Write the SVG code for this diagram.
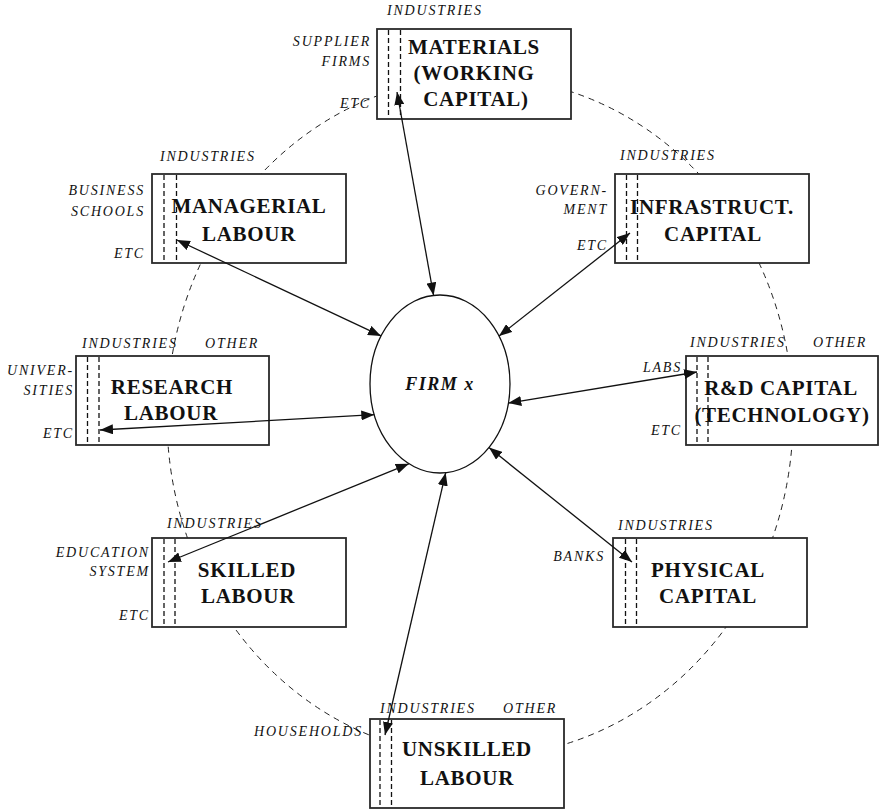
<svg xmlns="http://www.w3.org/2000/svg" width="879" height="812" viewBox="0 0 879 812">
  <style>
    .box { fill: #ffffff; stroke: #2a2a2a; stroke-width: 1.8; }
    .div { stroke: #111111; stroke-width: 1.3; stroke-dasharray: 5 3; fill: none; }
    .ring { fill: none; stroke: #222222; stroke-width: 1; stroke-dasharray: 6 5; }
    .title { font-family: "Liberation Serif", "Times New Roman", serif; font-weight: bold; font-size: 21px; letter-spacing: 0.7px; fill: #111111; text-anchor: middle; }
    .lab { font-family: "Liberation Serif", "Times New Roman", serif; font-style: italic; font-size: 14px; letter-spacing: 1.8px; fill: #111111; }
    .end { text-anchor: end; }
    .firm { font-family: "Liberation Serif", "Times New Roman", serif; font-style: italic; font-weight: bold; font-size: 18px; letter-spacing: 1.5px; fill: #111111; text-anchor: middle; }
    .arrow { stroke: #111111; stroke-width: 1.3; fill: none; marker-start: url(#head); marker-end: url(#head); }
  </style>
  <defs>
    <marker id="head" viewBox="0 0 13 10" refX="13" refY="5" markerWidth="13" markerHeight="10" markerUnits="userSpaceOnUse" orient="auto-start-reverse">
      <path d="M0,0 L13,5 L0,10 z" fill="#111111"/>
    </marker>
  </defs>
  <rect width="879" height="812" fill="#ffffff"/>

  <!-- outer ring of supplying sectors -->
  <ellipse class="ring" cx="480" cy="417" rx="313" ry="340"/>

  <g id="materials">
    <rect class="box" x="377" y="29" width="194" height="90"/>
    <line class="div" x1="388.5" y1="30" x2="388.5" y2="118"/>
    <line class="div" x1="400.5" y1="30" x2="400.5" y2="118"/>
    <text class="title" x="474" y="54">MATERIALS</text>
    <text class="title" x="474" y="80">(WORKING</text>
    <text class="title" x="476" y="106">CAPITAL)</text>
    <text class="lab" x="387" y="15">INDUSTRIES</text>
    <text class="lab end" x="371" y="46">SUPPLIER</text>
    <text class="lab end" x="371" y="66">FIRMS</text>
    <text class="lab end" x="371" y="108">ETC</text>
  </g>

  <g id="managerial">
    <rect class="box" x="152" y="174" width="194" height="89"/>
    <line class="div" x1="164" y1="175" x2="164" y2="262"/>
    <line class="div" x1="176.5" y1="175" x2="176.5" y2="262"/>
    <text class="title" x="249" y="213">MANAGERIAL</text>
    <text class="title" x="249" y="241">LABOUR</text>
    <text class="lab" x="160" y="161">INDUSTRIES</text>
    <text class="lab end" x="145" y="195">BUSINESS</text>
    <text class="lab end" x="145" y="216">SCHOOLS</text>
    <text class="lab end" x="145" y="258">ETC</text>
  </g>

  <g id="infrastructure">
    <rect class="box" x="615" y="174" width="194" height="89"/>
    <line class="div" x1="626.5" y1="175" x2="626.5" y2="262"/>
    <line class="div" x1="637.5" y1="175" x2="637.5" y2="262"/>
    <text class="title" x="712" y="214">INFRASTRUCT.</text>
    <text class="title" x="713" y="241">CAPITAL</text>
    <text class="lab" x="620" y="160">INDUSTRIES</text>
    <text class="lab end" x="608" y="195">GOVERN-</text>
    <text class="lab end" x="608" y="214">MENT</text>
    <text class="lab end" x="608" y="250">ETC</text>
  </g>

  <g id="research">
    <rect class="box" x="76" y="356" width="193" height="89"/>
    <line class="div" x1="87.5" y1="357" x2="87.5" y2="444"/>
    <line class="div" x1="99" y1="357" x2="99" y2="444"/>
    <text class="title" x="172" y="394">RESEARCH</text>
    <text class="title" x="171" y="420">LABOUR</text>
    <text class="lab" x="82" y="348">INDUSTRIES</text>
    <text class="lab" x="205" y="348">OTHER</text>
    <text class="lab end" x="74" y="375">UNIVER-</text>
    <text class="lab end" x="74" y="395">SITIES</text>
    <text class="lab end" x="74" y="438">ETC</text>
  </g>

  <g id="rd-capital">
    <rect class="box" x="686" y="356" width="192" height="89"/>
    <line class="div" x1="697" y1="357" x2="697" y2="444"/>
    <line class="div" x1="708" y1="357" x2="708" y2="444"/>
    <text class="title" x="781" y="395">R&amp;D CAPITAL</text>
    <text class="title" x="782" y="422">(TECHNOLOGY)</text>
    <text class="lab" x="690" y="347">INDUSTRIES</text>
    <text class="lab" x="813" y="347">OTHER</text>
    <text class="lab end" x="682" y="372">LABS</text>
    <text class="lab end" x="682" y="435">ETC</text>
  </g>

  <g id="skilled">
    <rect class="box" x="152" y="538" width="194" height="89"/>
    <line class="div" x1="164" y1="539" x2="164" y2="626"/>
    <line class="div" x1="175" y1="539" x2="175" y2="626"/>
    <text class="title" x="247" y="577">SKILLED</text>
    <text class="title" x="248" y="603">LABOUR</text>
    <text class="lab" x="167" y="528">INDUSTRIES</text>
    <text class="lab end" x="150" y="557">EDUCATION</text>
    <text class="lab end" x="150" y="576">SYSTEM</text>
    <text class="lab end" x="150" y="620">ETC</text>
  </g>

  <g id="physical">
    <rect class="box" x="613" y="538" width="194" height="89"/>
    <line class="div" x1="625.5" y1="539" x2="625.5" y2="626"/>
    <line class="div" x1="636.5" y1="539" x2="636.5" y2="626"/>
    <text class="title" x="708" y="577">PHYSICAL</text>
    <text class="title" x="708" y="603">CAPITAL</text>
    <text class="lab" x="618" y="530">INDUSTRIES</text>
    <text class="lab end" x="605" y="561">BANKS</text>
  </g>

  <g id="unskilled">
    <rect class="box" x="370" y="719" width="194" height="89"/>
    <line class="div" x1="380" y1="720" x2="380" y2="807"/>
    <line class="div" x1="391.5" y1="720" x2="391.5" y2="807"/>
    <text class="title" x="467" y="756">UNSKILLED</text>
    <text class="title" x="467" y="785">LABOUR</text>
    <text class="lab" x="380" y="713">INDUSTRIES</text>
    <text class="lab" x="503" y="713">OTHER</text>
    <text class="lab end" x="363" y="736">HOUSEHOLDS</text>
  </g>

  <g id="firm">
    <ellipse cx="440" cy="384" rx="70" ry="89" fill="#ffffff" stroke="#111111" stroke-width="1.3"/>
    <text class="firm" x="440" y="390">FIRM x</text>
  </g>

  <!-- two-way flows between the firm and each input sector -->
  <g id="connectors">
    <line class="arrow" x1="397" y1="92" x2="433.6" y2="295.5"/>
    <line class="arrow" x1="177" y1="240" x2="381" y2="335.9"/>
    <line class="arrow" x1="630" y1="233" x2="499" y2="336.1"/>
    <line class="arrow" x1="100" y1="430" x2="374.3" y2="414.7"/>
    <line class="arrow" x1="697" y1="372" x2="508.3" y2="403.1"/>
    <line class="arrow" x1="168" y1="562" x2="408.8" y2="463.8"/>
    <line class="arrow" x1="632" y1="562" x2="489" y2="447.6"/>
    <line class="arrow" x1="385" y1="735" x2="445.7" y2="472.7"/>
  </g>
</svg>
